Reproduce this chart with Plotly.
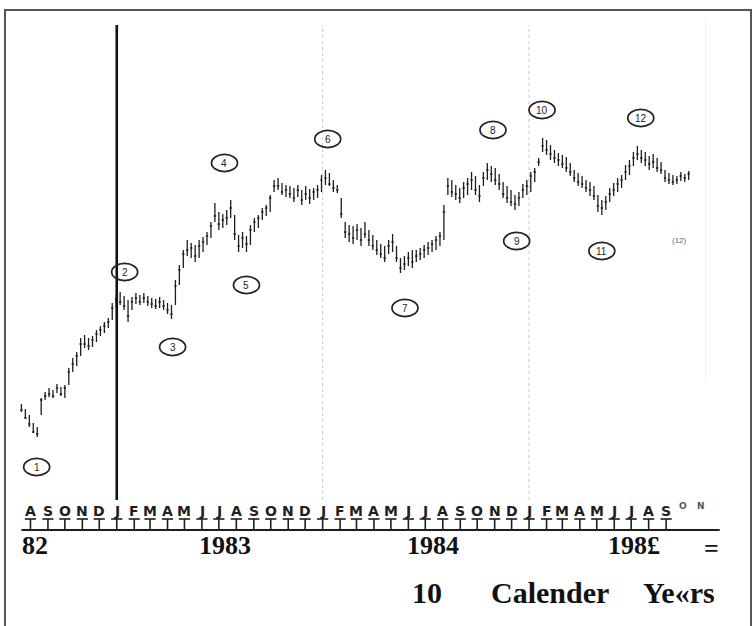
import pandas as pd
import plotly.graph_objects as go

# Weekly price bars, mid-July 1982 to early October 1985
week_start = "1982-07-16"
high = [48, 45.5, 42.5, 38.5, 36.5, 51, 54, 56, 55, 58,
        56.5, 57.5, 66, 71, 74, 81, 82.5, 81, 82, 85,
        87, 89, 91, 98.5, 102.5, 104, 102, 100, 101.5, 103.5,
        102.5, 103.5, 102, 101, 100.5, 101.5, 100, 98.5, 97.5, 110,
        117.5, 125, 130, 128.5, 127.5, 130, 131.5, 134, 139, 148.5,
        144, 143, 145, 150, 142.5, 132.5, 134, 132, 137.5, 141,
        142.5, 146, 147.5, 152.5, 160, 161, 158.5, 157.5, 157, 156,
        157.5, 155, 157, 155.5, 156, 157.5, 162.5, 165, 163.5, 160,
        157.5, 151, 139, 137.5, 137, 138, 136, 139, 135, 132.5,
        130, 128, 127, 130, 133, 127, 121, 122, 124, 125,
        125, 126, 127.5, 129, 130, 132, 134, 147.5, 161, 160,
        157.5, 156, 159, 161, 164, 162, 157.5, 164, 168.5, 167,
        166, 163, 159, 157, 155, 152.5, 154, 158, 160, 164,
        166, 171, 181, 180, 177.5, 175, 173.5, 172.5, 171.5, 168.5,
        165, 163.5, 162, 160, 159, 157, 152.5, 150, 152, 156,
        158.5, 161, 162.5, 167.5, 170, 174, 177, 175, 174, 172,
        173, 171, 169, 165, 163.5, 162.5, 162, 164, 163, 164.5]
low = [44, 40.5, 36.5, 33.5, 31.5, 42.5, 50, 51.5, 51, 53.5,
       52, 51, 57.5, 64, 67, 72, 76, 75, 76.5, 79,
       82, 83.5, 86, 90, 96, 97.5, 95, 89, 95, 98,
       97.5, 98.5, 97, 96, 95.5, 96, 95, 93, 90.5, 97.5,
       107.5, 116, 122, 121, 119, 121, 124, 127.5, 131, 139,
       135, 136, 137.5, 141, 130, 124, 126, 124, 127.5, 134,
       136, 140, 142, 144, 154, 155, 152.5, 151.5, 151, 149,
       151.5, 147.5, 150, 148, 150, 151, 154, 157.5, 157, 154,
       153.5, 141, 131, 129, 128, 130, 127, 131, 127, 125,
       122.5, 121, 119, 123, 124, 119, 113.5, 115, 117, 116,
       119, 120, 121, 122.5, 124, 125, 127, 130, 152.5, 151.5,
       150, 148.5, 151, 152.5, 155, 152.5, 149, 157, 160, 159,
       157.5, 155, 151, 148.5, 147, 145, 147, 151, 152.5, 154,
       159, 167, 174, 172.5, 170, 168.5, 167, 166, 164, 162,
       159, 157, 156, 154, 152, 150, 144, 142.5, 145, 149,
       152, 154, 156, 160, 162.5, 167, 170, 168.5, 167, 165,
       166, 164, 163, 159, 158, 157.5, 158, 159.5, 159, 160]
close = [45, 41, 38, 34, 33, 50, 52, 53, 52, 56,
         53, 56, 64, 68, 72, 78, 78, 77, 80, 83,
         85, 87, 89, 96, 100, 99, 97, 92, 99, 101,
         99, 101, 99, 98, 97, 99, 97, 95, 93, 107,
         115, 123, 125, 126, 122, 127, 129, 132, 137, 142,
         138, 140, 141, 146, 133, 127, 131, 128, 135, 139,
         141, 144, 146, 151, 157, 157, 154, 155, 153, 151,
         155, 150, 153, 151, 154, 155, 160, 161, 158, 156,
         155, 143, 134, 133, 131, 135, 130, 133, 130, 127,
         125, 123, 121, 127, 129, 121, 116, 118, 121, 119,
         122, 123, 125, 126, 128, 130, 132, 144, 157, 154,
         153, 151, 156, 158, 160, 155, 152, 161, 165, 163,
         160, 158, 153, 151, 149, 148, 151, 155, 157, 162,
         164, 169, 177, 175, 173, 171, 170, 168, 166, 164,
         161, 159, 158, 156, 155, 152, 147, 146, 149, 153,
         155, 158, 160, 164, 167, 171, 173, 171, 170, 168,
         169, 166, 165, 161, 160, 159, 160, 162, 161, 163]

# Month letters along the time scale
month_letters = list("ASOND" + "JFMAMJJASOND" * 2 + "JFMAMJJAS")
month_first = "1982-08-01"
tail_letters = ["O", "N"]
tail_first = "1985-10-01"
scale_end = "1985-12-05"

# Year captions under the month scale
year_labels = ["82", "1983", "1984", "198£"]
year_label_x = [20, 225, 433, 634]          # pixel anchors
caption_words = ["10", "Calender", "Ye«rs"]
caption_x = [427, 550, 679]

# Numbered turning points: (label, date, level)
wave_labels = [
    ("1", "1982-08-12", 16.5),
    ("2", "1983-01-15", 114),
    ("3", "1983-04-10", 76.5),
    ("4", "1983-07-11", 168.5),
    ("5", "1983-08-19", 107.5),
    ("6", "1984-01-10", 180.5),
    ("7", "1984-05-26", 96),
    ("8", "1984-10-29", 185),
    ("9", "1984-12-10", 129.5),
    ("10", "1985-01-24", 195),
    ("11", "1985-05-10", 124.5),
    ("12", "1985-07-18", 191),
]
note_label = ("(12)", "1985-09-24", 130)

W, H = 753, 626
weeks = pd.date_range(week_start, periods=len(high), freq="7D")
months = pd.date_range(month_first, periods=len(month_letters), freq="MS")
tail_months = pd.date_range(tail_first, periods=len(tail_letters), freq="MS")

INK = "#1e1e1e"
fig = go.Figure()

fig.add_trace(go.Ohlc(
    x=weeks, open=close, high=high, low=low, close=close,
    increasing=dict(line=dict(color=INK, width=1.3)),
    decreasing=dict(line=dict(color=INK, width=1.3)),
    tickwidth=0.3, showlegend=False, hoverinfo="skip",
))

# month scale: stems, cross-bars and base line
tick_top, tick_bot = -9.5, -15.0
sx, sy = [], []
for m in months:
    sx += [m, m, None]
    sy += [tick_top, tick_bot, None]
fig.add_trace(go.Scatter(x=sx, y=sy, mode="lines",
                         line=dict(color=INK, width=1.6),
                         showlegend=False, hoverinfo="skip"))
fig.add_trace(go.Scatter(x=months, y=[tick_top] * len(months), mode="markers",
                         marker=dict(symbol="line-ew", size=8,
                                     line=dict(color=INK, width=1.6)),
                         showlegend=False, hoverinfo="skip"))
fig.add_trace(go.Scatter(x=[weeks[0], scale_end], y=[tick_bot, tick_bot],
                         mode="lines", line=dict(color=INK, width=2.2),
                         showlegend=False, hoverinfo="skip"))

annotations = []
for m, t in zip(months, month_letters):
    annotations.append(dict(x=m, y=-5.5, xref="x", yref="y", text=t,
                            showarrow=False, xanchor="center", yanchor="middle",
                            font=dict(family="DejaVu Sans", size=14,
                                      color=INK, weight="bold")))
for m, t in zip(tail_months, tail_letters):
    annotations.append(dict(x=m, y=-3, xref="x", yref="y", text=t,
                            showarrow=False, xanchor="center", yanchor="middle",
                            font=dict(family="DejaVu Sans", size=9,
                                      color="#555", weight="bold")))

serif = dict(family="Liberation Serif", color="#111", weight="bold")
for i, (t, px) in enumerate(zip(year_labels, year_label_x)):
    annotations.append(dict(x=px / W, y=1 - 545 / H, xref="paper", yref="paper",
                            text=t, showarrow=False, yanchor="middle",
                            xanchor="left" if i == 0 else "center",
                            font=dict(size=26, **serif)))
annotations.append(dict(x=711 / W, y=1 - 548 / H, xref="paper", yref="paper",
                        text="=", showarrow=False, xanchor="center", yanchor="middle",
                        font=dict(size=26, **serif)))
for t, px in zip(caption_words, caption_x):
    annotations.append(dict(x=px / W, y=1 - 592 / H, xref="paper", yref="paper",
                            text=t, showarrow=False, xanchor="center", yanchor="middle",
                            font=dict(size=30, **serif)))

shapes = []
# calendar year dividers
shapes.append(dict(type="line", xref="x", yref="y", x0="1983-01-01", x1="1983-01-01",
                   y0=0, y1=237.5, line=dict(color="#111", width=2.6)))
for d in ["1984-01-01", "1985-01-01"]:
    shapes.append(dict(type="line", xref="x", yref="y", x0=d, x1=d,
                       y0=0, y1=237.5, line=dict(color="#c8c8c8", width=1, dash="dot")))
shapes.append(dict(type="line", xref="x", yref="y", x0="1985-11-10", x1="1985-11-10",
                   y0=60, y1=240, line=dict(color="#f0f0f0", width=1)))

# circled wave numbers
half_w = pd.Timedelta(days=23)
for t, d, v in wave_labels:
    c = pd.Timestamp(d)
    shapes.append(dict(type="circle", xref="x", yref="y",
                       x0=c - half_w, x1=c + half_w, y0=v - 4.3, y1=v + 4.3,
                       line=dict(color="#222", width=1.7)))
    annotations.append(dict(x=c, y=v, xref="x", yref="y", text=t, showarrow=False,
                            xanchor="center", yanchor="middle",
                            font=dict(family="Liberation Sans", size=10, color=INK)))
annotations.append(dict(x=pd.Timestamp(note_label[1]), y=note_label[2], xref="x", yref="y",
                        text=note_label[0], showarrow=False,
                        xanchor="center", yanchor="middle",
                        font=dict(family="Liberation Sans", size=8, color="#666")))

# page frame
shapes.append(dict(type="rect", xref="paper", yref="paper",
                   x0=5 / W, x1=751 / W, y0=-0.02, y1=1 - 10 / H,
                   line=dict(color="#555", width=2)))

fig.update_layout(
    width=W, height=H,
    margin=dict(l=0, r=0, t=0, b=0),
    paper_bgcolor="white", plot_bgcolor="white",
    xaxis=dict(type="date", range=["1982-06-08", "1986-02-02"], visible=False,
               rangeslider=dict(visible=False), fixedrange=True),
    yaxis=dict(range=[-63, 250], visible=False, fixedrange=True),
    shapes=shapes, annotations=annotations,
    showlegend=False,
)

fig.write_html("out.html")
